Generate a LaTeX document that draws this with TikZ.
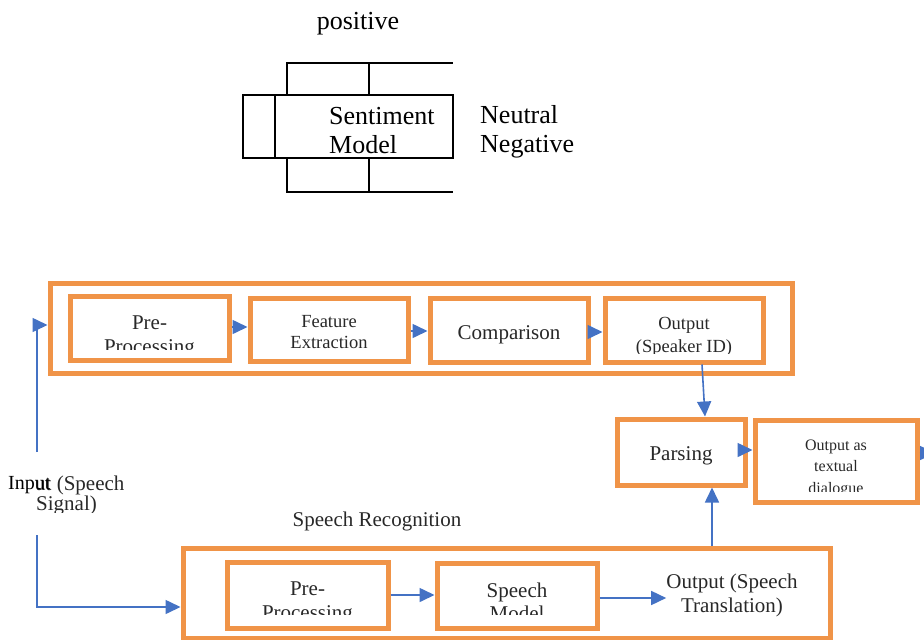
\documentclass[tikz,border=0pt]{standalone}
\usepackage{fontspec}
\setmainfont{Liberation Serif}
\usetikzlibrary{arrows.meta}
\definecolor{org}{RGB}{240,148,72}
\definecolor{blu}{RGB}{68,114,196}
\definecolor{txt}{RGB}{40,40,40}
\begin{document}
\begin{tikzpicture}[x=1pt,y=-1pt,
  obox/.style 2 args={draw=org,line width=5pt,inner sep=0pt,minimum width=#1,minimum height=#2},
  arr/.style={draw=blu,line width=1.6pt,-{Triangle[length=15pt,width=14pt]}},
  kline/.style={draw=black,line width=1.1pt},
  big/.style={font=\fontsize{26}{30}\selectfont,inner sep=0pt,anchor=base west},
  tx/.style={font=\fontsize{21}{24}\selectfont,text=txt,inner sep=0pt,anchor=base},
  tm/.style={font=\fontsize{18.5}{22}\selectfont,text=txt,inner sep=0pt,anchor=base},
  ts/.style={font=\fontsize{16}{19}\selectfont,text=txt,inner sep=0pt,anchor=base}]
\useasboundingbox (0,0) rectangle (924,640);
% ---------- sentiment model sketch ----------
\node[big,anchor=base] (pos) at (358,29) {positive};
\draw[kline] (243,95) rectangle (453,158);
\draw[kline] (275,95) -- (275,158);
\draw[kline] (287,95) -- (287,63) -- (453,63);
\draw[kline] (369,63) -- (369,95);
\draw[kline] (287,158) -- (287,192) -- (453,192);
\draw[kline] (369,158) -- (369,192);
\node[big] (sent) at (329,124) {Sentiment};
\node[big] (model) at (329,153) {Model};
\node[big] (neu) at (480,123) {Neutral};
\node[big] (neg) at (480,152) {Negative};
% ---------- speaker identification ----------
\node[obox={742pt}{90pt}] (outer1) at (421,328) {};
\node[obox={159pt}{64pt}] (pp1) at (149.5,328) {};
\node[obox={158pt}{63pt}] (fe) at (329,329.5) {};
\node[obox={158pt}{64pt}] (cmp) at (509,330) {};
\node[obox={158pt}{64pt}] (out1) at (684,330) {};
\begin{scope}
  \clip (70,296) rectangle (229,349);
  \node[tx] (pp1a) at (149.5,329) {Pre-};
  \node[tx] (pp1b) at (149.5,353) {Processing};
\end{scope}
\node[tm] (fea) at (329,327) {Feature};
\node[tm] (feb) at (329,348) {Extraction};
\node[tx] (cmpt) at (509,339) {Comparison};
\begin{scope}
  \clip (605,298) rectangle (763,353);
  \node[tm] (outa) at (684,329) {Output};
  \node[tm] (outb) at (684,352) {(Speaker ID)};
\end{scope}
% ---------- parsing / output ----------
\node[obox={128pt}{66pt}] (parsing) at (681,452) {};
\node[obox={162pt}{82pt}] (textual) at (836,461) {};
\node[tx] (parst) at (681,460) {Parsing};
\begin{scope}
  \clip (755,420) rectangle (917,491);
  \node[ts] (tta) at (836,450) {Output as};
  \node[ts] (ttb) at (836,471) {textual};
  \node[ts] (ttc) at (836,493) {dialogue};
\end{scope}
% ---------- speech recognition ----------
\node[tx] (srec) at (377,526) {Speech Recognition};
\node[obox={647pt}{90pt}] (outer2) at (506.5,593) {};
\node[obox={161pt}{66pt}] (pp2) at (307.5,595) {};
\node[obox={160pt}{65pt}] (sm) at (517,595.5) {};
\begin{scope}
  \clip (227,562) rectangle (388,614);
  \node[tx] (pp2a) at (307.5,595) {Pre-};
  \node[tx] (pp2b) at (307.5,619) {Processing};
\end{scope}
\begin{scope}
  \clip (437,563) rectangle (597,614);
  \node[tx] (sma) at (517,597) {Speech};
  \node[tx] (smb) at (517,620) {Model};
\end{scope}
\node[font=\fontsize{21}{24}\selectfont,text=txt,inner sep=0pt,align=center] (ost) at (732,595) {Output (Speech\\Translation)};
% ---------- input label ----------
\begin{scope}
  \clip (35,460) rectangle (140,512);
  \node[tx,anchor=base west] (inpa) at (35,490) {ut (Speech};
  \node[tx,anchor=base west] (inpb) at (36,510) {Signal)};
\end{scope}
\node[font=\fontsize{20}{24}\selectfont,inner sep=0pt,anchor=base west] (inp) at (8,489) {Input};
% ---------- connectors ----------
\coordinate (in1) at (37,452);
\coordinate (in2) at (37,535);
\coordinate (stub) at (935,453);
\draw[arr] (in1) |- ([yshift=3pt]outer1.west);
\draw[arr] (in2) |- ([yshift=-14pt]outer2.west);
\draw[arr] ([yshift=1pt]pp1.east) -- ([yshift=1pt]pp1.east -| fe.west);
\draw[arr] ([yshift=-1.5pt]fe.east) -- ([yshift=-1.5pt]fe.east -| cmp.west);
\draw[arr] ([yshift=-2pt]cmp.east) -- ([yshift=-2pt]cmp.east -| out1.west);
\draw[arr] ([xshift=18pt]out1.south) -- ([xshift=24pt]parsing.north);
\draw[arr] ([yshift=2pt]parsing.east) -- ([yshift=2pt]parsing.east -| textual.west);
\draw[arr] ([yshift=8pt]textual.east) -- (stub);
\draw[arr] ([xshift=205.5pt]outer2.north) -- ([xshift=31pt]parsing.south);
\draw[arr] (pp2.east) -- (pp2.east -| sm.west);
\draw[arr] ([yshift=-2.5pt]sm.east) -- ([yshift=-2.5pt]sm.east -| ost.west);
\end{tikzpicture}
\end{document}
